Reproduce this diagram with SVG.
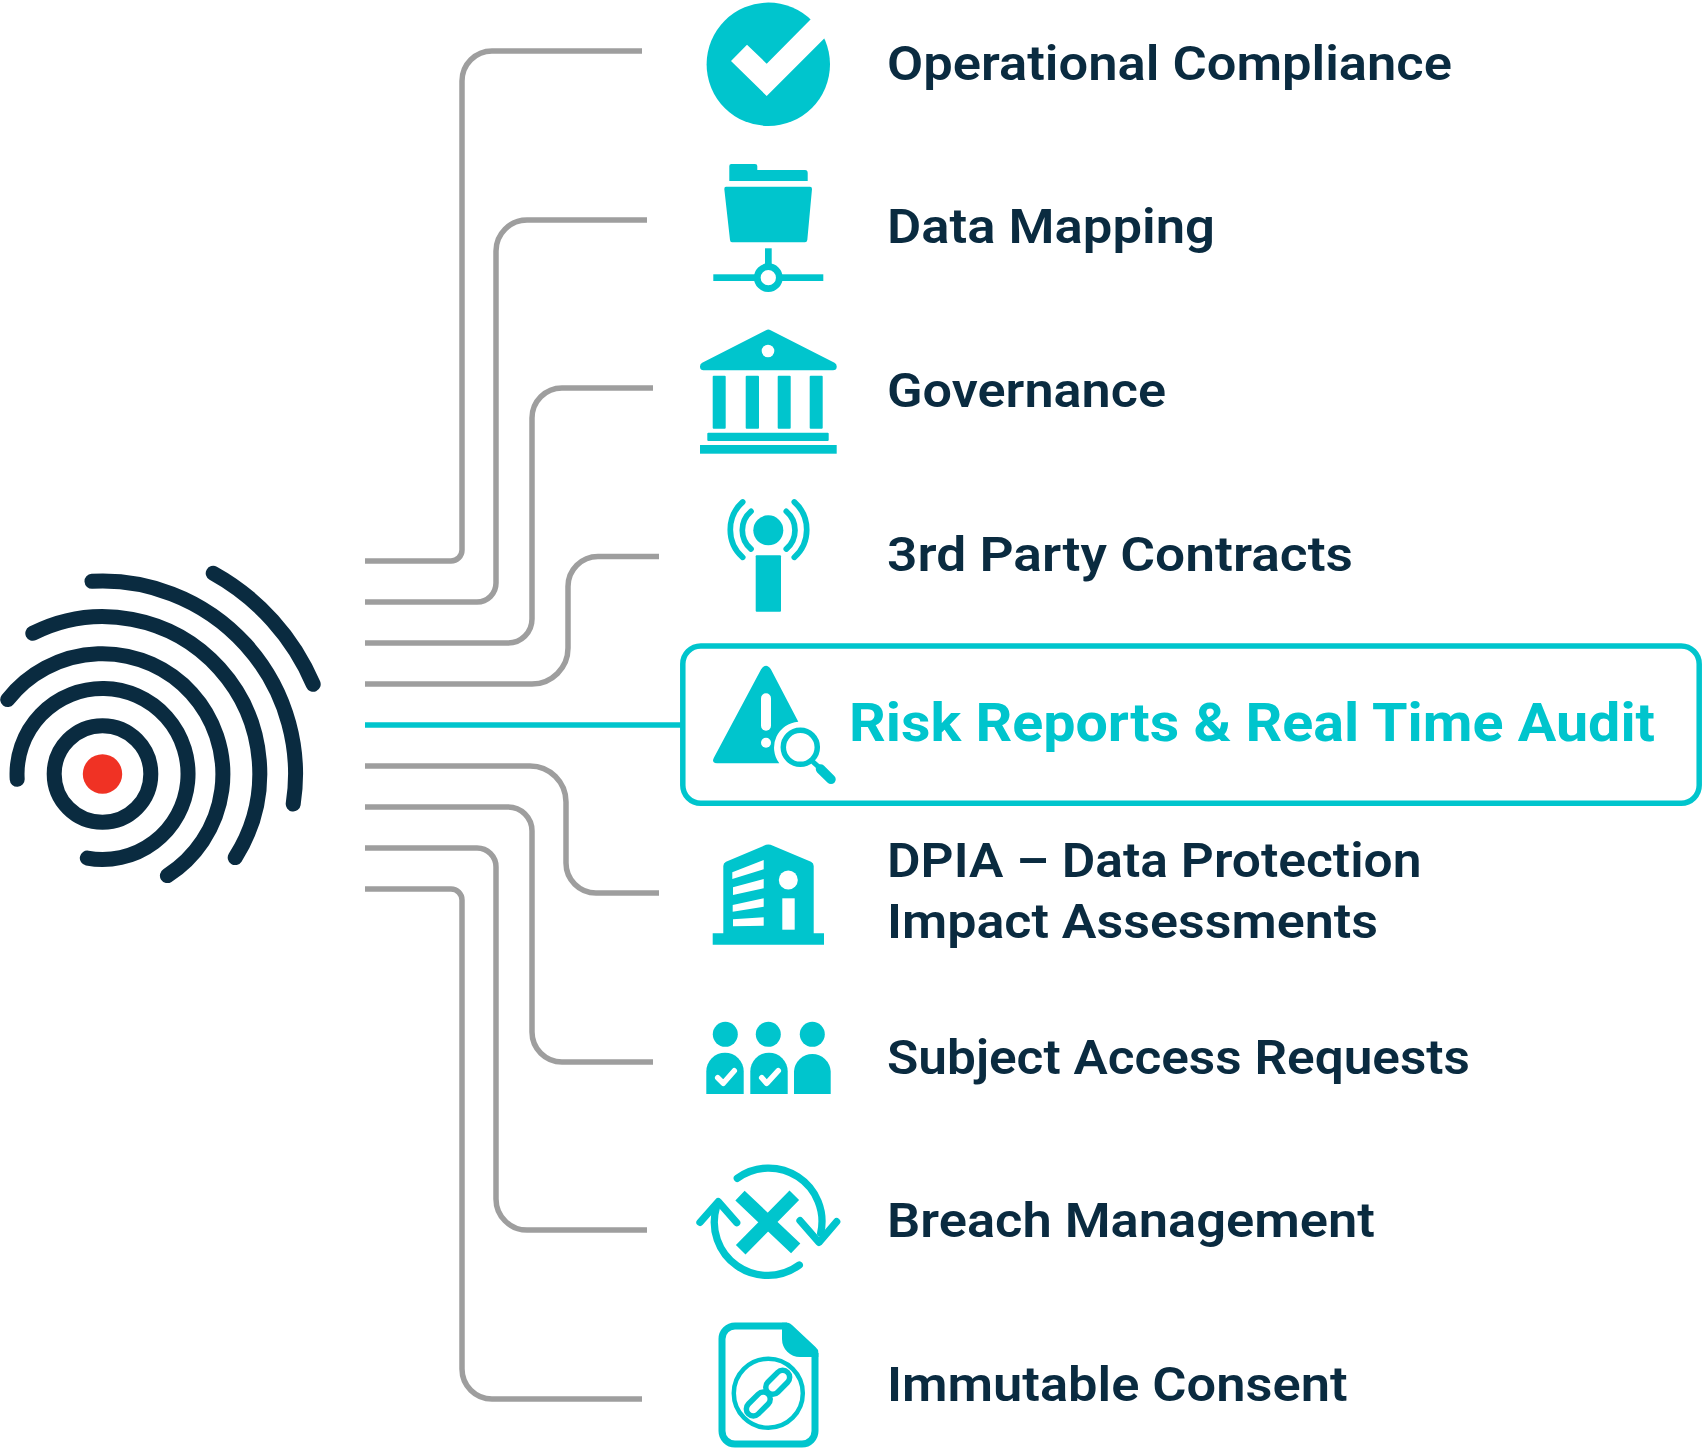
<svg xmlns="http://www.w3.org/2000/svg" width="1704" height="1452" viewBox="0 0 1704 1452">
<style>
.t{fill:#00c5cd}
.w{fill:#fff}
.ts{fill:none;stroke:#00c5cd}
.c{fill:none;stroke:#9e9e9e;stroke-width:5.5}
.r{fill:none;stroke:#0a2b40;stroke-width:15;stroke-linecap:round}
.l{font-family:"Roboto","Noto Sans",sans-serif;font-weight:600;font-size:49px;fill:#0a2b40}
.h{font-size:53px;fill:#00c5cd;font-weight:700}
</style>
<rect width="1704" height="1452" fill="#fff"/>
<g id="connectors">
<path class="c" d="M642 51H492A30 30 0 0 0 462 81V550A11 11 0 0 1 451 561H365"/>
<path class="c" d="M647 220H527A31 31 0 0 0 496 251V583A19 19 0 0 1 477 602H365"/>
<path class="c" d="M653 388H562A30 30 0 0 0 532 418V619A24 24 0 0 1 508 643H365"/>
<path class="c" d="M659 556.5H598A30 30 0 0 0 568 586.5V648A36 36 0 0 1 532 684H365"/>
<path class="c" style="stroke:#00c5cd" d="M365 725H685"/>
<path class="c" d="M365 766H530A36 36 0 0 1 566 802V863A30 30 0 0 0 596 893H659"/>
<path class="c" d="M365 807H508A24 24 0 0 1 532 831V1032A30 30 0 0 0 562 1062H653"/>
<path class="c" d="M365 848H477A19 19 0 0 1 496 867V1199A31 31 0 0 0 527 1230H647"/>
<path class="c" d="M365 889H451A11 11 0 0 1 462 900V1369A30 30 0 0 0 492 1399H642"/>
</g>
<g id="target">
<circle cx="102.5" cy="774" r="19.7" fill="#f03224"/>
<circle class="r" cx="102.5" cy="774" r="48.3"/>
<path class="r" d="M17.2 779.3A85.5 85.5 0 1 1 87.3 858.1"/>
<path class="r" d="M7.7 699.6A120.5 120.5 0 1 1 167.4 875.6"/>
<path class="r" d="M32.8 633.3A156.7 156.7 0 0 1 235.2 857.6"/>
<path class="r" d="M92 581.3A193 193 0 0 1 293.2 804"/>
<path class="r" d="M213.2 573.3A229 229 0 0 1 313.2 684.3"/>
</g>
<g id="node-operational-compliance">
<circle class="t" cx="768.3" cy="64.3" r="61.7"/>
<path class="w" d="M731 61L747 44.7L766.7 63.7L816.7 13.3L830.7 32L766.7 96Z"/>
<text class="l" x="887" y="80" textLength="565" lengthAdjust="spacingAndGlyphs">Operational Compliance</text>
</g>
<g id="node-data-mapping">
<path class="t" d="M729.3 181V166Q729.3 164 731.3 164H755Q757.3 164 757.3 166V170H805Q807.7 170 807.7 173V181Z"/>
<path class="t" d="M726 186.7H810Q812 186.7 812 189L807.3 240Q807 242.3 805 242.3H732Q730.2 242.3 730 240L724.3 189Q724.3 186.7 726 186.7Z"/>
<rect class="t" x="765" y="248.3" width="6.7" height="20"/>
<rect class="t" x="713.3" y="274.3" width="110" height="6.7"/>
<circle cx="768.3" cy="277.7" r="11" fill="#fff" stroke="#00c5cd" stroke-width="6.7"/>
<text class="l" x="887" y="243" textLength="328" lengthAdjust="spacingAndGlyphs">Data Mapping</text>
</g>
<g id="node-governance">
<path class="t" d="M766 330.2Q768.3 329 770.6 330.2L834.5 362.8Q837 364 836.7 367Q836.5 370.3 833 370.3H703.5Q700.3 370.3 700 367Q699.8 364 702.2 362.8Z"/>
<circle class="w" cx="768" cy="351" r="6.3"/>
<rect class="t" x="712.7" y="375.7" width="13" height="53" rx="1"/>
<rect class="t" x="745.7" y="375.7" width="13.3" height="53" rx="1"/>
<rect class="t" x="777.7" y="375.7" width="13" height="53" rx="1"/>
<rect class="t" x="809.7" y="375.7" width="13" height="53" rx="1"/>
<rect class="t" x="707.3" y="432.7" width="121.4" height="8.3" rx="1"/>
<rect class="t" x="700" y="445" width="136.7" height="8.7"/>
<text class="l" x="887" y="407" textLength="279" lengthAdjust="spacingAndGlyphs">Governance</text>
</g>
<g id="node-3rd-party-contracts">
<circle class="t" cx="768.3" cy="530.3" r="15"/>
<rect class="t" x="755.7" y="555.3" width="25.3" height="56.4" rx="1"/>
<g class="ts" stroke-width="5.7" stroke-linecap="round">
<path d="M751 511.3A24.8 24.8 0 0 0 751 549"/>
<path d="M742.7 502A37 37 0 0 0 742.7 557.3"/>
<path d="M786.3 511.3A24.8 24.8 0 0 1 786.3 549"/>
<path d="M794.3 502A37 37 0 0 1 794.3 557.3"/>
</g>
<text class="l" x="887" y="571" textLength="466" lengthAdjust="spacingAndGlyphs">3rd Party Contracts</text>
</g>
<g id="node-risk-reports">
<rect x="682.8" y="646" width="1016.4" height="157.3" rx="18" fill="#fff" stroke="#00c5cd" stroke-width="5.5"/>
<path class="t" d="M761 669.5Q766 662 771 669.5L798.3 721.7A26 26 0 0 0 779.3 763.3H717Q711 763 714 757.5Z"/>
<rect class="w" x="761" y="693.3" width="10" height="37.4" rx="5"/>
<circle class="w" cx="766" cy="742.7" r="5"/>
<circle class="ts" cx="800.3" cy="747.3" r="17" stroke-width="5.5"/>
<path class="ts" stroke-width="5" d="M812.7 761.7L821 769"/>
<path class="ts" stroke-width="9.5" stroke-linecap="round" d="M820.5 769L831 779.3"/>
<text class="l h" x="849" y="741" textLength="806" lengthAdjust="spacingAndGlyphs">Risk Reports &amp; Real Time Audit</text>
</g>
<g id="node-dpia">
<path class="t" d="M723.3 933.3V866Q723.3 863 726 861.8L766 844.8Q768.3 844 770.6 844.8L811 861.8Q813.7 863 813.7 866V933.3H824V944.7H712.7V933.3Z"/>
<path class="w" d="M732.3 872.3L763.7 860V869.3L732.3 879ZM733 887.3L763.7 879V888.3L733 895ZM732.7 905L763.7 898.3V906.7L732.7 911.7ZM733 919.3L763.7 917.3V925.7L733 926.3Z"/>
<circle class="w" cx="788.3" cy="880" r="9.5"/>
<rect class="w" x="782.3" y="898.3" width="12.4" height="31.4"/>
<text class="l" x="887" y="877" textLength="534.5" lengthAdjust="spacingAndGlyphs">DPIA – Data Protection</text>
<text class="l" x="887" y="938" textLength="491" lengthAdjust="spacingAndGlyphs">Impact Assessments</text>
</g>
<g id="node-subject-access">
<circle class="t" cx="725.3" cy="1034.3" r="12.5"/>
<circle class="t" cx="768.3" cy="1034.3" r="12.5"/>
<circle class="t" cx="812.3" cy="1034.3" r="12.5"/>
<path class="t" d="M706.3 1094V1071.4A18.7 18.7 0 0 1 743.7 1071.4V1094Z"/>
<path class="t" d="M750.3 1094V1071.4A18.7 18.7 0 0 1 787.7 1071.4V1094Z"/>
<path class="t" d="M794 1094V1071.4A18.4 18.7 0 0 1 830.7 1071.4V1094Z"/>
<path fill="none" stroke="#fff" stroke-width="5.5" stroke-linecap="round" stroke-linejoin="round" d="M717.7 1077.7L723.3 1083.3L734.3 1070.7M761.7 1077.7L766.7 1083.3L778.3 1070.7"/>
<text class="l" x="887" y="1074" textLength="583" lengthAdjust="spacingAndGlyphs">Subject Access Requests</text>
</g>
<g id="node-breach">
<path class="ts" stroke-width="13.5" d="M740 1195.7L795.7 1248.3M794.3 1195.3L740.7 1249.7"/>
<g class="ts" stroke-width="7.3" stroke-linecap="round" stroke-linejoin="round">
<path d="M737.3 1178.3A53.3 53.3 0 0 1 820.7 1233"/>
<path d="M800 1220.7L819 1242.3L836.7 1221.7"/>
<path d="M799.3 1265A53.3 53.3 0 0 1 716.5 1207"/>
<path d="M700 1222.3L718.3 1201.7L736.7 1222.7"/>
</g>
<text class="l" x="887" y="1237" textLength="488" lengthAdjust="spacingAndGlyphs">Breach Management</text>
</g>
<g id="node-immutable-consent">
<path class="ts" stroke-width="7" d="M787 1326H735A13 13 0 0 0 722 1339V1431A13 13 0 0 0 735 1444H802A13 13 0 0 0 815 1431V1353"/>
<path class="t" d="M782 1322.7H788Q790 1323 792 1325L815.5 1347Q818.3 1349.5 818.3 1352V1357H800A18 18 0 0 1 782 1339Z"/>
<circle class="ts" cx="768.3" cy="1393.3" r="34.5" stroke-width="4.5"/>
<g class="ts" stroke-width="5.5">
<rect x="763.7" y="1375.3" width="28" height="14" rx="7" transform="rotate(-45 777.7 1382.3)"/>
<rect x="744.3" y="1397" width="28" height="14" rx="7" transform="rotate(-45 758.3 1404)"/>
</g>
<text class="l" x="887" y="1401" textLength="460.5" lengthAdjust="spacingAndGlyphs">Immutable Consent</text>
</g>
</svg>
